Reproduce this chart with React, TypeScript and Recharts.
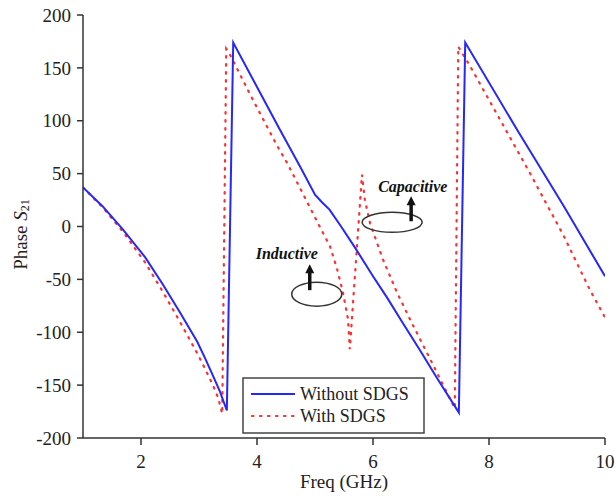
import React from "react";
import {
  LineChart,
  Line,
  XAxis,
  YAxis,
  ReferenceDot,
} from "recharts";

const FONT = "Liberation Serif, Tinos, DejaVu Serif, serif";

// Without SDGS (solid blue)
const freqWithout = [
  1, 1.34, 1.69, 2.07, 2.38, 2.67, 2.97, 3.1, 3.24, 3.36, 3.48, 3.59, 4.0, 4.4,
  4.74, 5.0, 5.12, 5.25, 5.45, 5.69, 6.0, 6.24, 6.5, 6.81, 7.1, 7.48, 7.59, 8.5,
  9.28, 10,
];
const phaseWithout = [
  37, 19, -3, -29, -55, -81, -109, -124, -141, -156, -174, 174, 132, 91, 57, 30,
  23, 16, 0, -20, -47, -67, -90, -117, -143, -176, 174, 90, 20, -47,
];

// With SDGS (dotted red)
const freqWith = [
  1, 1.34, 1.69, 2.07, 2.38, 2.67, 2.97, 3.1, 3.24, 3.33, 3.4, 3.47, 3.53, 3.88,
  4.34, 4.52, 5.09, 5.26, 5.38, 5.48, 5.57, 5.6, 5.81, 5.86, 5.95, 6.17, 6.41,
  6.64, 7.0, 7.41, 7.47, 7.67, 8.14, 8.71, 9.28, 9.74, 10,
];
const phaseWith = [
  37, 18, -5, -34, -62, -90, -120, -134, -150, -162, -177, 168, 163, 125, 77,
  60, -1, -19, -40, -62, -88, -116, 49, 25, 3, -31, -62, -88, -127, -172, 170,
  152, 106, 50, -8, -60, -86,
];

const xTicks = [2, 4, 6, 8, 10];
const yTicks = [-200, -150, -100, -50, 0, 50, 100, 150, 200];

const without = freqWithout.map((f, i) => ({ f, p: phaseWithout[i] }));
const withSdgs = freqWith.map((f, i) => ({ f, p: phaseWith[i] }));

const tickStyle = { fill: "#222", fontSize: 19, fontFamily: FONT };

function YLabel(props: any) {
  const vb = props.viewBox || { y: 15, height: 423 };
  const cx = 20;
  const cy = vb.y + vb.height / 2 + 8;
  return (
    <text
      x={cx}
      y={cy}
      transform={`rotate(-90 ${cx} ${cy})`}
      textAnchor="middle"
      dominantBaseline="central"
      fill="#222"
      fontSize={19}
      style={{ fontFamily: FONT }}
    >
      Phase <tspan fontStyle="italic">S</tspan>
      <tspan fontSize={12} dy={5}>
        21
      </tspan>
    </text>
  );
}

function XLabel(props: any) {
  const vb = props.viewBox || { x: 83, width: 522, y: 438 };
  return (
    <text
      x={vb.x + vb.width / 2}
      y={488}
      textAnchor="middle"
      fill="#222"
      fontSize={19}
      style={{ fontFamily: FONT }}
    >
      Freq (GHz)
    </text>
  );
}

function Arrow({ x, y1, y2 }: { x: number; y1: number; y2: number }) {
  return (
    <g>
      <line x1={x} y1={y1} x2={x} y2={y2 + 8} stroke="#111" strokeWidth={3.5} />
      <polygon points={`${x - 4.5},${y2 + 9} ${x + 4.5},${y2 + 9} ${x},${y2}`} fill="#111" />
    </g>
  );
}

function Inductive(props: any) {
  const { cx, cy } = props;
  return (
    <g>
      <ellipse cx={cx} cy={cy} rx={25} ry={12} fill="none" stroke="#333" strokeWidth={1.5} />
      <Arrow x={cx - 7} y1={cy - 4} y2={cy - 30} />
      <text
        x={cx - 61}
        y={cy - 35}
        fontSize={16}
        fontWeight="bold"
        fontStyle="italic"
        fill="#111"
        style={{ fontFamily: FONT }}
      >
        Inductive
      </text>
    </g>
  );
}

function Capacitive(props: any) {
  const { cx, cy } = props;
  return (
    <g>
      <ellipse cx={cx} cy={cy} rx={30} ry={10} fill="none" stroke="#333" strokeWidth={1.5} />
      <Arrow x={cx + 19} y1={cy - 1} y2={cy - 26} />
      <text
        x={cx - 14}
        y={cy - 30}
        fontSize={16}
        fontWeight="bold"
        fontStyle="italic"
        fill="#111"
        style={{ fontFamily: FONT }}
      >
        Capacitive
      </text>
    </g>
  );
}

export default function App() {
  return (
    <div
      style={{
        position: "absolute",
        left: 0,
        top: 0,
        width: 615,
        height: 496,
        background: "#fff",
        fontFamily: FONT,
      }}
    >
      <LineChart
        width={615}
        height={496}
        margin={{ top: 15, right: 10, left: 0, bottom: 0 }}
        style={{ fontFamily: FONT }}
      >
        <XAxis
          type="number"
          dataKey="f"
          domain={[1, 10]}
          ticks={xTicks}
          allowDataOverflow
          height={58}
          tickSize={7}
          tickMargin={10}
          tick={tickStyle}
          stroke="#333"
          strokeWidth={1.5}
          label={<XLabel />}
        />
        <YAxis
          type="number"
          dataKey="p"
          domain={[-200, 200]}
          ticks={yTicks}
          allowDataOverflow
          width={83}
          tickSize={6}
          tickMargin={6}
          tick={tickStyle}
          stroke="#333"
          strokeWidth={1.5}
          label={<YLabel />}
        />
        <Line
          data={withSdgs}
          dataKey="p"
          type="linear"
          stroke="#ff3030"
          strokeWidth={2.2}
          strokeDasharray="1.5 6.5"
          strokeLinecap="round"
          dot={false}
          isAnimationActive={false}
        />
        <Line
          data={without}
          dataKey="p"
          type="linear"
          stroke="#2626ff"
          strokeWidth={2}
          dot={false}
          isAnimationActive={false}
        />
        <ReferenceDot x={5.03} y={-64} r={0} shape={<Inductive />} ifOverflow="visible" />
        <ReferenceDot x={6.33} y={4} r={0} shape={<Capacitive />} ifOverflow="visible" />
      </LineChart>
      <svg
        width={615}
        height={496}
        style={{ position: "absolute", left: 0, top: 0, pointerEvents: "none", fontFamily: FONT }}
      >
        <rect x={243} y={378} width={181} height={55} fill="#fff" stroke="#444" strokeWidth={1.5} />
        <line x1={251} y1={394} x2={295} y2={394} stroke="#2626ff" strokeWidth={2} />
        <text x={300} y={400} fontSize={18} fill="#222">
          Without SDGS
        </text>
        <line
          x1={252}
          y1={416}
          x2={296}
          y2={416}
          stroke="#ff3030"
          strokeWidth={2.2}
          strokeDasharray="1.5 6.5"
          strokeLinecap="round"
        />
        <text x={300} y={422} fontSize={18} fill="#222">
          With SDGS
        </text>
      </svg>
    </div>
  );
}
